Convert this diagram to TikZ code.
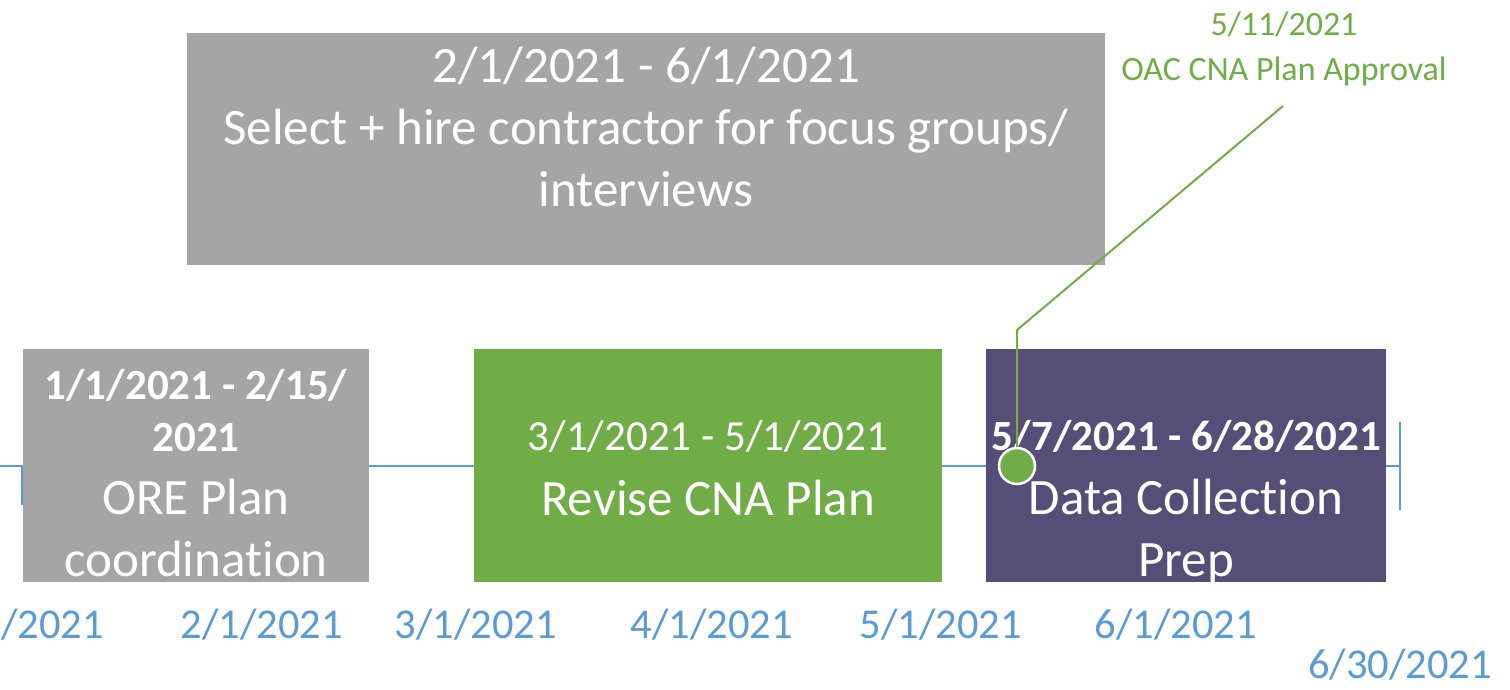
\documentclass[tikz,border=0pt]{standalone}
\usepackage{fontspec}
\setmainfont[Ligatures={NoCommon,NoContextual}]{Carlito}
\definecolor{axisblue}{HTML}{5B9BD5}
\definecolor{taskgrey}{HTML}{A5A5A5}
\definecolor{taskgreen}{HTML}{70AD47}
\definecolor{taskpurple}{HTML}{564E77}

\begin{document}
\begin{tikzpicture}[x=1pt,y=-1pt,
    task box/.style={rectangle,inner sep=0pt,anchor=north west},
    big text/.style={text=white,anchor=base,align=center,inner sep=0pt,font=\fontsize{51}{62}\selectfont},
    date text/.style={text=white,anchor=base,align=center,inner sep=0pt,font=\fontsize{43}{52}\selectfont},
    axis date/.style={text=axisblue,anchor=base,inner sep=0pt,font=\fontsize{42.5}{52}\selectfont},
    mile text/.style={text=taskgreen,anchor=base,align=center,inner sep=0pt,font=\fontsize{34}{45}\selectfont}]
                \useasboundingbox (0,0) rectangle (1510,689);

                % timeline
                \coordinate (tl) at (0, 466);
                \coordinate (tr) at (1400, 466);
                \coordinate (ts) at (22, 466);
                \coordinate (tsb) at (22, 505);
                \coordinate (tet) at (1400, 422);
                \coordinate (teb) at (1400, 510);
                \draw[axisblue, line width=2] (tl) -- (tr);
                \draw[axisblue, line width=2] (ts) -- (tsb);
                \draw[axisblue, line width=2] (tet) -- (teb);

                % task boxes
                \node[task box, fill=taskgrey, minimum width=918, minimum height=232] at (187, 33) (hire) {};
                \node[task box, fill=taskgrey, minimum width=346, minimum height=233] at (23, 349) (ore) {};
                \node[task box, fill=taskgreen, minimum width=468, minimum height=233] at (474, 349) (revise) {};
                \node[task box, fill=taskpurple, minimum width=400, minimum height=233] at (986, 349) (prep) {};

                % base = last line
                \node[big text] at (646, 206) (hiretxt) {2/1/2021 - 6/1/2021\\Select + hire contractor for focus groups/\\interviews};
                \node[date text, font=\fontsize{43}{52}\selectfont\bfseries] at (196, 451) (oredate) {1/1/2021 - 2/15/\\2021};
                \node[big text] at (196, 576) (oretxt) {ORE Plan\\coordination};
                \node[date text] at (708, 450) (revisedate) {3/1/2021 - 5/1/2021};
                \node[big text] at (708, 515) (revisetxt) {Revise CNA Plan};
                \node[date text, font=\fontsize{43}{52}\selectfont\bfseries] at (1186, 450) (prepdate) {5/7/2021 - 6/28/2021};
                \node[big text] at (1186, 576) (preptxt) {Data Collection\\Prep};

                % axis dates
                \node[axis date] at (23, 638) (d1) {1/1/2021};
                \node[axis date] at (262, 638) (d2) {2/1/2021};
                \node[axis date] at (476, 638) (d3) {3/1/2021};
                \node[axis date] at (712, 638) (d4) {4/1/2021};
                \node[axis date] at (941, 638) (d5) {5/1/2021};
                \node[axis date] at (1176, 638) (d6) {6/1/2021};
                \node[axis date] at (1400, 678) (d7) {6/30/2021};

                % milestone
                \node[mile text] at (1284, 80) (oac) {5/11/2021\\OAC CNA Plan Approval};
                \coordinate (lead) at (1283, 106);
                \coordinate (bend) at (1017, 330);
                \node[circle, fill=taskgreen, draw=white, line width=2.5, minimum size=36, inner sep=0pt] at (1017, 466) (ms) {};
                \draw[taskgreen, line width=2] (ms.north) -- (bend) -- (lead);
            \end{tikzpicture}
\end{document}
